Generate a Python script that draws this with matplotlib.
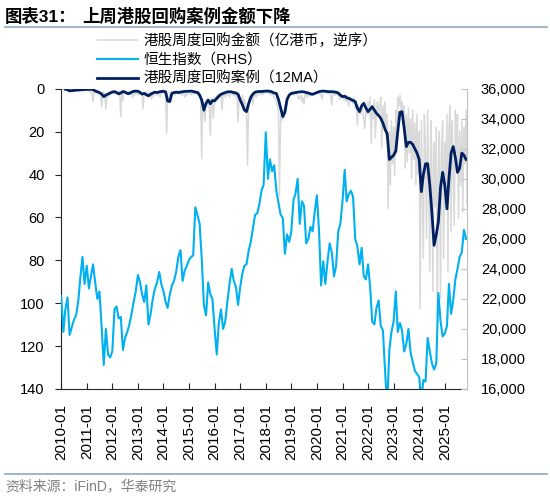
# -*- coding: utf-8 -*-
import pandas as pd
import matplotlib
matplotlib.use("Agg")
import matplotlib.pyplot as plt
import matplotlib.dates as mdates
from matplotlib.lines import Line2D
from matplotlib.ticker import FuncFormatter, MultipleLocator

plt.rcParams['font.family'] = ['Liberation Sans', 'Noto Sans CJK SC']

buyback_amt = [
    0, 0.3, 0.5, 0.2, 1, 0.5, 0.3, 1.5, 0.5, 0.2, 0.8, 0.3, 0.5, 1, 0.3, 0.2, 0.5, 1.2, 0.4, 0.3, 0.6, 0.2, 0.5, 0.8,  # 2010
    0.5, 1, 0.8, 1.5, 1, 2, 6, 1.5, 2, 1, 2.5, 1.2, 1.8, 3, 8.4, 2, 1.5, 3, 9.5, 2.5, 4, 2, 3, 1.5,                 # 2011
    1, 2, 0.8, 1.5, 2, 1, 2.5, 1, 13, 2, 5.5, 1.5, 1, 2, 1.5, 3, 1, 2.5, 1.5, 4, 2, 1, 3, 1.5,                      # 2012
    1.5, 3, 1, 2, 2.5, 9.2, 2, 3, 1.5, 4, 2, 1.5, 3, 5, 2, 3.5, 1.5, 2, 3, 1.5, 2.5, 4, 1.5, 2,                     # 2013
    2, 1.5, 3, 20.8, 4, 6, 3, 2, 1.5, 2.5, 1.5, 3, 2, 1.5, 2.5, 1, 2, 3, 1.5, 2.5, 4, 2, 3, 2.5,                    # 2014
    2, 1.5, 3, 2, 1.5, 2.5, 1, 2, 1.5, 3, 2, 4, 32.5, 6, 9, 15.4, 7, 5, 8, 6, 21.6, 5, 7, 13.8,                     # 2015
    4, 6, 3, 5, 2.5, 4, 3, 10, 3, 2, 4, 2.5, 3, 2, 4, 2, 1.5, 3, 2, 3.5, 2, 4, 15.4, 5,                             # 2016
    4, 6, 3, 8, 5, 7, 12, 35.6, 6, 4, 5, 3, 7.6, 3, 2, 4, 2.5, 2, 3, 1.5, 2, 3, 1.5, 2,                             # 2017
    1.5, 2, 1, 2.5, 1.5, 3, 2, 3, 4, 5, 6, 8, 10, 50, 12, 15, 10, 14, 8.7, 6, 5, 4, 3, 2.5,                         # 2018
    2, 1.5, 3, 2, 1.5, 2.5, 3, 5, 4, 3, 6, 4, 7.2, 3, 2.5, 4, 3, 2, 3.5, 2, 3, 2.5, 2, 1.5,                         # 2019
    1.5, 2, 1, 2.5, 3, 5, 2, 1.5, 2, 1, 2.5, 1.5, 2, 3, 7.6, 2, 1.5, 3, 2, 2.5, 3, 4, 5, 3,                         # 2020
    3, 5, 4, 6, 3, 5, 8, 4, 6, 5, 7, 4, 9, 6, 16.9, 8, 10, 12, 7, 9, 14, 18.5, 10, 12,                              # 2021
    6, 12, 4, 25.5, 8, 14, 5, 23, 10, 6, 12, 9, 4, 27.8, 8, 18, 6, 22, 12, 55.8, 20, 44.9, 15, 35,                  # 2022
    18, 40.3, 10, 30, 4, 8, 3, 10, 6, 15, 8, 37.1, 12, 34, 9, 30, 14, 41.8, 10, 33, 16, 44.9, 12, 40,               # 2023
    20, 102.5, 15, 45, 79.2, 12, 30, 69.8, 10, 40, 85.4, 15, 35, 94.7, 25, 55, 18, 107, 40, 20, 97.8, 30, 15, 79.2, # 2024
    25, 50, 12, 85.4, 20, 8, 66.7, 15, 35, 63.6, 10, 30, 12, 60.5, 20, 45, 15, 57.4, 18, 35, 10, 54.2,              # 2025
]

# Hang Seng index, monthly (RHS)
hsi = [
    22200, 19800, 21300, 22100, 19600, 20100, 20600, 20900, 21800, 23400, 24800, 23000,  # 2010
    24200, 22700, 23500, 24300, 23100, 22000, 22500, 20200, 17600, 20000, 18300, 18100,  # 2011
    18500, 21300, 21500, 20700, 20800, 18600, 19400, 19800, 20300, 21000, 21800, 22500,  # 2012
    23600, 23100, 22300, 21800, 22900, 20300, 21000, 22000, 22700, 23100, 23800, 23000,  # 2013
    22500, 21800, 21400, 22300, 22900, 23200, 23800, 24800, 25250, 23200, 23900, 24200,  # 2014
    24600, 24800, 24900, 28100, 27600, 27000, 24700, 21600, 20900, 23100, 22300, 22000,  # 2015
    20000, 18300, 20400, 21300, 20000, 20500, 21800, 23000, 24000, 23200, 22800, 21600,  # 2016
    22800, 23700, 24200, 24300, 25200, 25800, 26700, 27600, 27700, 28300, 29200, 29600,  # 2017
    33100, 30000, 31300, 30500, 30900, 29200, 28400, 27600, 27400, 25000, 26300, 25800,  # 2018
    26500, 28600, 29000, 30000, 27000, 28500, 28200, 25700, 26000, 26800, 26500, 27800,  # 2019
    28900, 26500, 22900, 24500, 23000, 24500, 25700, 25100, 23500, 24200, 26500, 27000,  # 2020
    28500, 30600, 28500, 29000, 29200, 28800, 26000, 25500, 24300, 25400, 23500, 23300,  # 2021
    24300, 22700, 20500, 20300, 21400, 21900, 20200, 19900, 17200, 14800, 18600, 19800,  # 2022
    20500, 22500, 19800, 20400, 19900, 18500, 19000, 20000, 18400, 17800, 17200, 17000,  # 2023
    16800, 15300, 16600, 16500, 19400, 18500, 17700, 17300, 17700, 22400, 20500, 19500,  # 2024
    19700, 20200, 23000, 21000, 21900, 23300, 24000, 24800, 25100, 26600, 26000,         # 2025
]

# buyback cases, 12-week moving average, monthly from 2010-03
buyback_ma = [
    0.2, 0.5, 1.0, 0.9, 0.8, 0.7, 0.6, 0.5, 0.5, 0.4,                    # 2010 (Mar-Dec)
    0.3, 0.3, 0.2, 0.5, 1.0, 1.4, 1.8, 2.5, 3.7, 3.0, 2.5, 2.0,          # 2011
    1.6, 1.4, 1.8, 2.4, 2.0, 1.3, 1.6, 2.2, 2.2, 1.6, 1.2, 1.1,          # 2012
    1.2, 1.8, 2.5, 2.2, 2.8, 3.3, 2.6, 2.0, 1.6, 1.8, 1.5, 1.3,          # 2013
    1.2, 1.5, 5.7, 6.0, 2.2, 1.8, 1.6, 1.8, 1.6, 1.4, 1.3, 1.2,          # 2014
    1.2, 1.1, 1.3, 1.6, 1.7, 3.0, 5.3, 10.0, 6.8, 5.3, 7.0, 5.5,         # 2015
    5.7, 4.5, 3.5, 2.6, 2.2, 1.8, 1.5, 1.4, 1.5, 1.8, 2.0, 2.6,          # 2016
    5.3, 7.5, 9.9, 10.7, 7.0, 4.0, 2.5, 1.6, 1.4, 1.3, 1.3, 1.2,         # 2017
    1.1, 1.1, 1.2, 1.5, 2.0, 2.2, 5.0, 9.0, 13.0, 11.0, 5.0, 3.0,        # 2018
    2.2, 2.0, 1.8, 1.6, 1.5, 1.4, 1.5, 1.8, 2.0, 2.4, 2.6, 2.2,          # 2019
    1.8, 1.4, 1.2, 1.1, 1.2, 1.3, 1.4, 1.4, 1.5, 1.6, 2.0, 3.0,          # 2020
    3.7, 3.5, 4.2, 4.5, 5.0, 5.5, 6.0, 9.0, 10.7, 8.0, 6.8, 9.0,         # 2021
    10.7, 9.5, 8.4, 10.0, 11.5, 12.5, 13.8, 16.0, 19.0, 21.0, 33.0, 32.0, # 2022
    31.0, 29.0, 20.0, 11.0, 10.7, 18.5, 27.0, 25.0, 25.0, 26.0, 28.0, 30.0, # 2023
    33.0, 48.0, 40.0, 35.0, 35.0, 45.0, 58.0, 73.0, 68.0, 62.0, 46.0, 39.0, # 2024
    45.0, 56.0, 42.0, 30.0, 27.0, 32.0, 39.0, 37.0, 30.0, 31.0, 33.0,     # 2025
]

amt_dates = pd.date_range('2010-01-01', periods=len(buyback_amt), freq='SMS')
hsi_dates = pd.date_range('2010-01-01', periods=len(hsi), freq='MS')
ma_dates = pd.date_range('2010-03-01', periods=len(buyback_ma), freq='MS')

label_amt = '港股周度回购金额（亿港币，逆序）'
label_hsi = '恒生指数（RHS）'
label_ma = '港股周度回购案例（12MA）'

W, H = 550, 496
fig = plt.figure(figsize=(W / 100, H / 100), dpi=100)
ax = fig.add_axes([61.2 / W, 1 - 389 / H, (467 - 61.2) / W, (389 - 88.7) / H])
ax2 = ax.twinx()

l1, = ax.plot(amt_dates, buyback_amt, color='#D9D9D9', lw=1.1, zorder=1)
l3, = ax.plot(ma_dates, buyback_ma, color='#002060', lw=2.0, zorder=2)
l2, = ax2.plot(hsi_dates, hsi, color='#00B0F0', lw=1.5)

ax.set_ylim(140, 0)
ax.yaxis.set_major_locator(MultipleLocator(20))
ax2.set_ylim(16000, 36000)
ax2.yaxis.set_major_locator(MultipleLocator(2000))
ax2.yaxis.set_major_formatter(FuncFormatter(lambda v, p: f'{v:,.0f}'))

ax.set_xlim(pd.Timestamp('2010-01-01'), pd.Timestamp('2025-11-14'))
ax.xaxis.set_major_locator(mdates.YearLocator())
ax.xaxis.set_major_formatter(mdates.DateFormatter('%Y-%m'))

for a in (ax, ax2):
    a.spines['top'].set_visible(False)
ax.spines['right'].set_visible(False)
ax2.spines['left'].set_visible(False)
ax2.spines['bottom'].set_visible(False)
ax2.spines['right'].set_color('#BFBFBF')
ax.spines['left'].set_color('#262626')
ax.spines['bottom'].set_color('#262626')

ax.tick_params(axis='y', direction='out', length=4, pad=8, labelsize=10.5, color='#262626')
ax.tick_params(axis='x', direction='in', length=4, pad=11, labelsize=11, color='#262626',
               labelrotation=90)
ax2.tick_params(axis='y', direction='in', length=4, pad=10, labelsize=10.5, color='#BFBFBF')

fig.legend([l1, l2, l3], [label_amt, label_hsi, label_ma], loc='upper left',
           bbox_to_anchor=(97 / W, 1 - 33 / H), frameon=False, fontsize=10.5,
           handlelength=2.8, handletextpad=0.4, labelspacing=0.34,
           borderpad=0, borderaxespad=0)

# title and footer
fig.text(5 / W, 1 - 16 / H, '图表31：', fontsize=12.5, fontweight='bold', va='center')
fig.text(82 / W, 1 - 16 / H, '上周港股回购案例金额下降', fontsize=12.5, fontweight='bold', va='center')
fig.add_artist(Line2D([5 / W, 547 / W], [1 - 27 / H] * 2, color='#8EA9C1', lw=1.2))
fig.add_artist(Line2D([5 / W, 547 / W], [1 - 474 / H] * 2, color='#8EA9C1', lw=1.2))
fig.text(5 / W, 1 - 486 / H, '资料来源：iFinD，华泰研究', fontsize=10, color='#808080', va='center')

fig.savefig('out.png', dpi=100)
